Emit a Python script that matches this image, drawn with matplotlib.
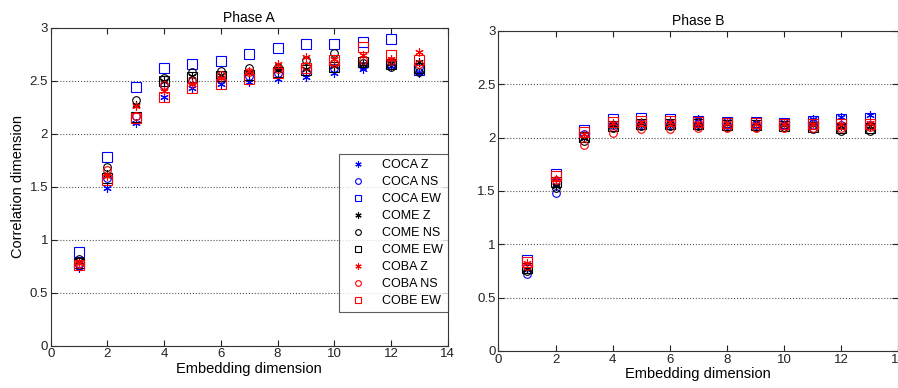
import numpy as np
import matplotlib.pyplot as plt

plt.rcParams['font.family'] = ['Liberation Sans', 'DejaVu Sans']

dims = np.arange(1, 14)
names = ['COCA Z', 'COCA NS', 'COCA EW', 'COME Z', 'COME NS', 'COME EW',
         'COBA Z', 'COBA NS', 'COBE EW']

# phase A correlation dimension per station/component
a_coca_z = [0.73, 1.49, 2.10, 2.35, 2.43, 2.47, 2.49, 2.52, 2.54, 2.57, 2.61, 2.64, 2.57]
a_coca_ns = [0.77, 1.58, 2.17, 2.45, 2.50, 2.52, 2.55, 2.57, 2.58, 2.62, 2.64, 2.65, 2.63]
a_coca_ew = [0.88, 1.78, 2.44, 2.62, 2.66, 2.69, 2.75, 2.81, 2.85, 2.85, 2.87, 2.90, 2.60]
a_come_z = [0.80, 1.62, 2.27, 2.50, 2.55, 2.56, 2.57, 2.60, 2.61, 2.64, 2.66, 2.67, 2.68]
a_come_ns = [0.82, 1.69, 2.32, 2.53, 2.58, 2.59, 2.62, 2.63, 2.70, 2.76, 2.67, 2.63, 2.58]
a_come_ew = [0.78, 1.58, 2.16, 2.50, 2.54, 2.55, 2.56, 2.58, 2.60, 2.63, 2.68, 2.66, 2.62]
a_coba_z = [0.78, 1.60, 2.26, 2.40, 2.47, 2.53, 2.59, 2.66, 2.73, 2.71, 2.74, 2.71, 2.77]
a_coba_ns = [0.77, 1.66, 2.17, 2.46, 2.50, 2.56, 2.58, 2.61, 2.64, 2.67, 2.70, 2.69, 2.66]
a_cobe_ew = [0.76, 1.56, 2.15, 2.35, 2.43, 2.47, 2.52, 2.57, 2.62, 2.70, 2.82, 2.74, 2.70]

# phase B
b_coca_z = [0.77, 1.56, 2.00, 2.13, 2.15, 2.16, 2.17, 2.16, 2.15, 2.15, 2.17, 2.19, 2.21]
b_coca_ns = [0.72, 1.48, 2.03, 2.12, 2.13, 2.13, 2.13, 2.12, 2.12, 2.12, 2.12, 2.12, 2.12]
b_coca_ew = [0.85, 1.66, 2.07, 2.17, 2.18, 2.17, 2.16, 2.15, 2.15, 2.14, 2.16, 2.17, 2.18]
b_come_z = [0.77, 1.55, 2.00, 2.12, 2.14, 2.14, 2.13, 2.13, 2.13, 2.12, 2.12, 2.11, 2.11]
b_come_ns = [0.75, 1.53, 1.97, 2.09, 2.11, 2.11, 2.11, 2.10, 2.10, 2.10, 2.08, 2.06, 2.06]
b_come_ew = [0.78, 1.58, 2.01, 2.11, 2.13, 2.13, 2.13, 2.12, 2.12, 2.11, 2.10, 2.09, 2.09]
b_coba_z = [0.82, 1.61, 2.03, 2.14, 2.15, 2.15, 2.14, 2.14, 2.13, 2.13, 2.13, 2.13, 2.14]
b_coba_ns = [0.80, 1.60, 1.93, 2.04, 2.08, 2.08, 2.09, 2.09, 2.09, 2.09, 2.09, 2.09, 2.10]
b_cobe_ew = [0.83, 1.64, 2.05, 2.15, 2.16, 2.16, 2.15, 2.14, 2.14, 2.13, 2.13, 2.13, 2.13]

phase_a = [a_coca_z, a_coca_ns, a_coca_ew, a_come_z, a_come_ns, a_come_ew,
           a_coba_z, a_coba_ns, a_cobe_ew]
phase_b = [b_coca_z, b_coca_ns, b_coca_ew, b_come_z, b_come_ns, b_come_ew,
           b_coba_z, b_coba_ns, b_cobe_ew]

asterisk = (6, 2, 0)
colors = ['#0000ff'] * 3 + ['k'] * 3 + ['#ff0000'] * 3
markers = [asterisk, 'o', 's'] * 3
sizes = [6, 5.5, 6.5] * 3

fig = plt.figure(figsize=(8.98, 3.88), dpi=100)
ax1 = fig.add_axes([0.0565, 0.109, 0.442, 0.819])
ax2 = fig.add_axes([0.555, 0.0954, 0.4454, 0.825])


def draw(ax, series, title):
    for vals, c, m, s, lab in zip(series, colors, markers, sizes, names):
        ax.plot(dims, vals, linestyle='none', marker=m, markersize=s,
                markerfacecolor='none', markeredgecolor=c, markeredgewidth=0.8,
                color=c, label=lab)
    ax.set_xlim(0, 14)
    ax.set_ylim(0, 3)
    ax.set_xticks(np.arange(0, 15, 2))
    ax.set_yticks(np.arange(0, 3.01, 0.5))
    ax.set_yticklabels(['0', '0.5', '1', '1.5', '2', '2.5', '3'])
    ax.yaxis.grid(True, linestyle=':', color='#555555', linewidth=0.8)
    ax.tick_params(direction='in', top=True, right=True, labelsize=9.5,
                   length=4, colors='#222222', pad=2)
    for sp in ax.spines.values():
        sp.set_color('#333333')
        sp.set_linewidth(0.8)
    ax.set_title(title, fontsize=10, pad=4)
    ax.set_xlabel('Embedding dimension', fontsize=10.5, labelpad=1)


draw(ax1, phase_a, 'Phase A')
draw(ax2, phase_b, 'Phase B')
ax1.set_ylabel('Correlation dimension', fontsize=10.5, labelpad=3)

leg = ax1.legend(loc='lower right', bbox_to_anchor=(1.0, 0.106), fontsize=9,
                 frameon=True, fancybox=False, edgecolor='#333333',
                 borderaxespad=0, handletextpad=0.8, labelspacing=0.4,
                 borderpad=0.4, handlelength=2.2, markerscale=0.75)
leg.get_frame().set_linewidth(0.8)

fig.savefig('out.png', dpi=100)
